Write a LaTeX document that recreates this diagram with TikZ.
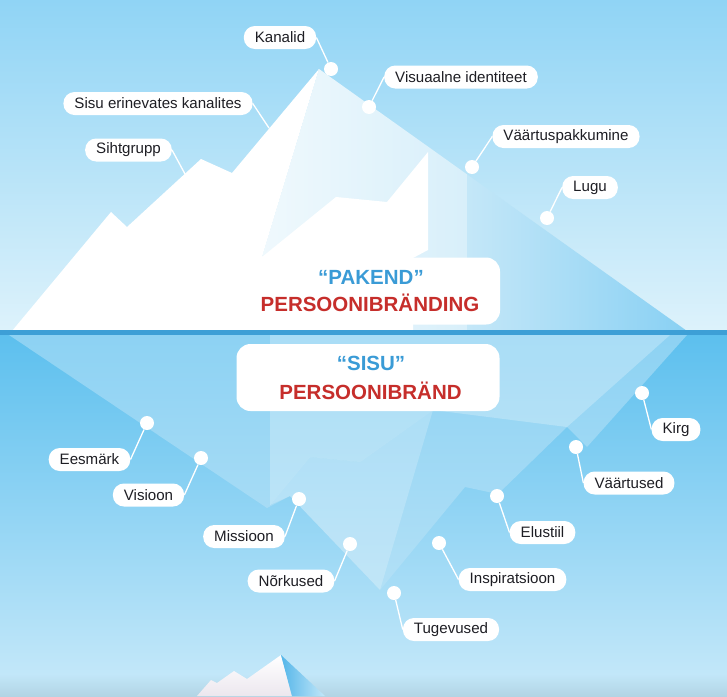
\documentclass[tikz,border=0pt]{standalone}
\usepackage{fontspec}
\setmainfont{Liberation Sans}
\definecolor{skyTop}{HTML}{90D4F5}
\definecolor{skyBot}{HTML}{DDF2FB}
\definecolor{wline}{HTML}{3D9FD6}
\definecolor{wTop}{HTML}{5BBFEE}
\definecolor{wMid}{HTML}{C2E7F9}
\definecolor{wBot}{HTML}{B2D4E4}
\definecolor{bodyTop}{HTML}{8DD2F3}
\definecolor{bodyBot}{HTML}{B2E0F6}
\definecolor{faceA}{HTML}{F0F9FD}
\definecolor{faceB}{HTML}{D8EFFA}
\definecolor{faceC}{HTML}{C4E7F8}
\definecolor{faceD}{HTML}{88D0F3}
\definecolor{txt}{HTML}{1E1E24}
\definecolor{blueT}{HTML}{3A9BD6}
\definecolor{redT}{HTML}{C62E2B}
\definecolor{tipBlue}{HTML}{55B6E9}
\definecolor{tipLow}{HTML}{ECE7EE}
\begin{document}
\begin{tikzpicture}[x=1pt,y=-1pt,
  lbl/.style={fill=white, rounded corners=11pt, minimum height=23pt, inner xsep=11pt, inner ysep=0pt, text=txt, font=\fontsize{15.1}{16}\selectfont},
  conn/.style={draw=white, line width=1.3pt},
  dotc/.style={circle, fill=white, inner sep=0pt, minimum size=14pt},
  titlebox/.style={fill=white, rounded corners=14pt, minimum width=263pt, minimum height=67pt, inner sep=0pt},
  tblue/.style={text=blueT, font=\bfseries\fontsize{20.5}{22}\selectfont, inner sep=0pt},
  tred/.style={text=redT, font=\bfseries\fontsize{20.5}{22}\selectfont, inner sep=0pt}]
\useasboundingbox (0,0) rectangle (727,696);
% sky
\shade[top color=skyTop, bottom color=skyBot] (0,0) rectangle (727,331);
% water
\shade[top color=wTop, bottom color=wMid] (0,331) rectangle (727,674);
\shade[top color=wMid, bottom color=wBot] (0,674) rectangle (727,696);
% underwater body
\shade[top color=bodyTop, bottom color=bodyBot] (9,335) -- (267,508) -- (290,496) -- (380,590) -- (465,487) -- (498,494) -- (567,427) -- (587,447) -- (687,335) -- cycle;
% pale reflection
\fill[white, opacity=0.25] (270,335) -- (270,505) -- (310,457) -- (360,462) -- (433,410) -- (567,427) -- (670,335) -- cycle;
\fill[white, opacity=0.2] (290,496) -- (380,590) -- (433,410) -- (360,462) -- (310,457) -- (270,505) -- cycle;
% above-water face
\begin{scope}
  \clip (319,69) -- (687,331) -- (262,331) -- (262,257) -- cycle;
  \shade[left color=faceA, right color=faceB] (255,60) rectangle (467,331);
  \shade[left color=faceC, right color=faceD] (467,60) rectangle (690,331);
\end{scope}
% white iceberg
\fill[white] (12,331) -- (111,212) -- (127,227) -- (201,159) -- (232,173) -- (319,69) -- (262,257) -- (336,197) -- (387,202) -- (428,152) -- (428,250) -- (413,258) -- (413,331) -- cycle;
% waterline
\fill[wline] (0,330) rectangle (727,335);
% small iceberg tip at the bottom
\shade[top color=white, bottom color=tipLow] (197,696) -- (211,680) -- (217,683) -- (234,671) -- (247,679) -- (281,655) -- (292,696) -- cycle;
\shade[left color=tipBlue, right color=wMid] (281,655) -- (325,696) -- (292,696) -- cycle;

% title boxes
\node[titlebox] (pakbox) at (368.5,291) {};
\node[tblue] (pak1) at (371,277) {“PAKEND”};
\node[tred] (pak2) at (370,303) {PERSOONIBRÄNDING};
\node[titlebox] (sisbox) at (368,377.5) {};
\node[tblue] (sis1) at (371,363) {“SISU”};
\node[tred] (sis2) at (370.5,391) {PERSOONIBRÄND};

% dots and end points
\node[dotc] (dkan) at (331,69) {};
\node[dotc] (dvis) at (369,107) {};
\coordinate (dsek) at (269,128);
\coordinate (dsih) at (185,174);
\node[dotc] (dvaa) at (472,167) {};
\node[dotc] (dlug) at (547,218) {};
\node[dotc] (dees) at (147,423) {};
\node[dotc] (dvsn) at (201,458) {};
\node[dotc] (dmis) at (299,499) {};
\node[dotc] (dnor) at (350,544) {};
\node[dotc] (dtug) at (394,593) {};
\node[dotc] (dins) at (439,543) {};
\node[dotc] (delu) at (497,496) {};
\node[dotc] (dvat) at (576,447) {};
\node[dotc] (dkir) at (642,393) {};

% labels
\node[lbl] (kan) at (280,37.5) {Kanalid};
\node[lbl] (vis) at (461,77) {Visuaalne identiteet};
\node[lbl] (sek) at (158,103.5) {Sisu erinevates kanalites};
\node[lbl] (sih) at (128.5,150) {Sihtgrupp};
\node[lbl] (vaa) at (566,136.5) {Väärtuspakkumine};
\node[lbl] (lug) at (590,187.5) {Lugu};
\node[lbl] (ees) at (89.5,459.5) {Eesmärk};
\node[lbl] (vsn) at (148.5,495) {Visioon};
\node[lbl] (mis) at (244,536.5) {Missioon};
\node[lbl] (nor) at (291,581) {Nõrkused};
\node[lbl] (tug) at (451,629.5) {Tugevused};
\node[lbl] (ins) at (512.5,579.5) {Inspiratsioon};
\node[lbl] (elu) at (542.5,532.5) {Elustiil};
\node[lbl] (vat) at (629,483) {Väärtused};
\node[lbl] (kir) at (676,429.5) {Kirg};

% connectors
\draw[conn] (kan.east) -- (dkan);
\draw[conn] (vis.west) -- (dvis);
\draw[conn] (sek.east) -- (dsek);
\draw[conn] (sih.east) -- (dsih);
\draw[conn] (vaa.west) -- (dvaa);
\draw[conn] (lug.west) -- (dlug);
\draw[conn] (ees.east) -- (dees);
\draw[conn] (vsn.east) -- (dvsn);
\draw[conn] (mis.east) -- (dmis);
\draw[conn] (nor.east) -- (dnor);
\draw[conn] (tug.west) -- (dtug);
\draw[conn] (ins.west) -- (dins);
\draw[conn] (elu.west) -- (delu);
\draw[conn] (vat.west) -- (dvat);
\draw[conn] (kir.west) -- (dkir);
\end{tikzpicture}
\end{document}
